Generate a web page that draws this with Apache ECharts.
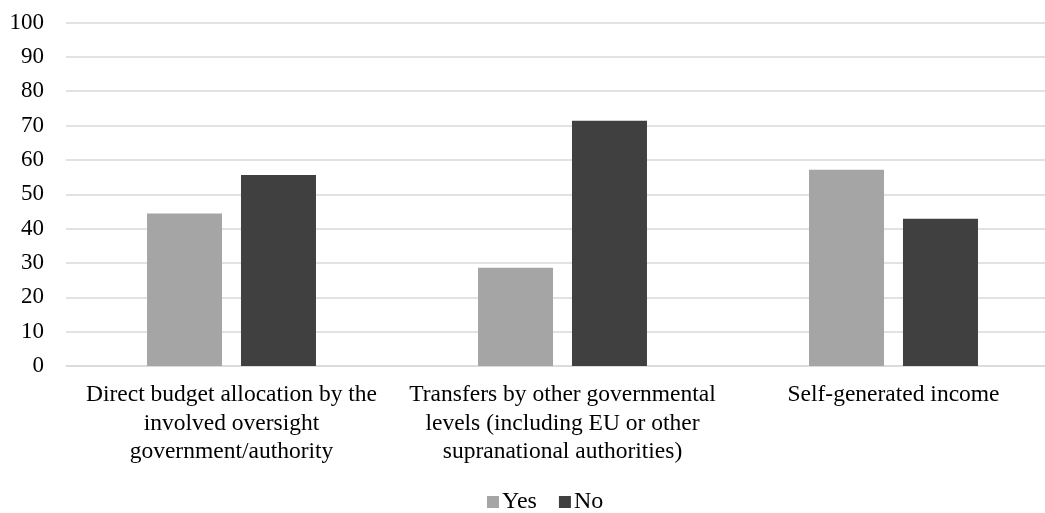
<!DOCTYPE html>
<html>
<head>
<meta charset="utf-8">
<script src="https://cdn.jsdelivr.net/npm/echarts@6/dist/echarts.min.js"></script>
<style>html,body{margin:0;padding:0;background:#fff;overflow:hidden;width:1045px;height:513px;}#c{width:1062px;height:513px;}</style>
</head>
<body>
<div id="c"></div>
<script>
const categories = [
  "Direct budget allocation by the\ninvolved oversight\ngovernment/authority",
  "Transfers by other governmental\nlevels (including EU or other\nsupranational authorities)",
  "Self-generated income"
];
const yesValues = [44.4, 28.6, 57.1];
const noValues = [55.6, 71.4, 42.9];
const seriesNames = ["Yes", "No"];

const font = "'Liberation Serif', 'Times New Roman', serif";
const chart = echarts.init(document.getElementById('c'));
chart.setOption({
  animation: false,
  backgroundColor: '#fff',
  textStyle: { fontFamily: font },
  grid: { left: 66, right: 3, top: 22.5, bottom: 147, containLabel: false },
  legend: {
    top: 490, left: 487, padding: 0,
    itemWidth: 12, itemHeight: 12, itemGap: 22,
    icon: 'rect',
    textStyle: { fontFamily: font, fontSize: 24, color: '#000', padding: [0,0,0,-2] },
    data: seriesNames
  },
  xAxis: {
    type: 'category',
    data: categories,
    axisLine: { show: true, lineStyle: { color: '#d9d9d9', width: 1.5 } },
    axisTick: { show: false },
    axisLabel: { fontFamily: font, fontSize: 23.5, color: '#000', lineHeight: 28.5, margin: 15, interval: 0 }
  },
  yAxis: {
    type: 'value', min: 0, max: 100, interval: 10,
    axisLine: { show: false }, axisTick: { show: false },
    axisLabel: { fontFamily: font, fontSize: 23, color: '#000', margin: 22 },
    splitLine: { lineStyle: { color: '#d9d9d9', width: 1.5 } }
  },
  series: [
    { name: seriesNames[0], type: 'bar', data: yesValues, barWidth: 75, barGap: '25.3%',
      itemStyle: { color: '#a5a5a5' } },
    { name: seriesNames[1], type: 'bar', data: noValues, barWidth: 75,
      itemStyle: { color: '#404040' } }
  ]
});
</script>
</body>
</html>
